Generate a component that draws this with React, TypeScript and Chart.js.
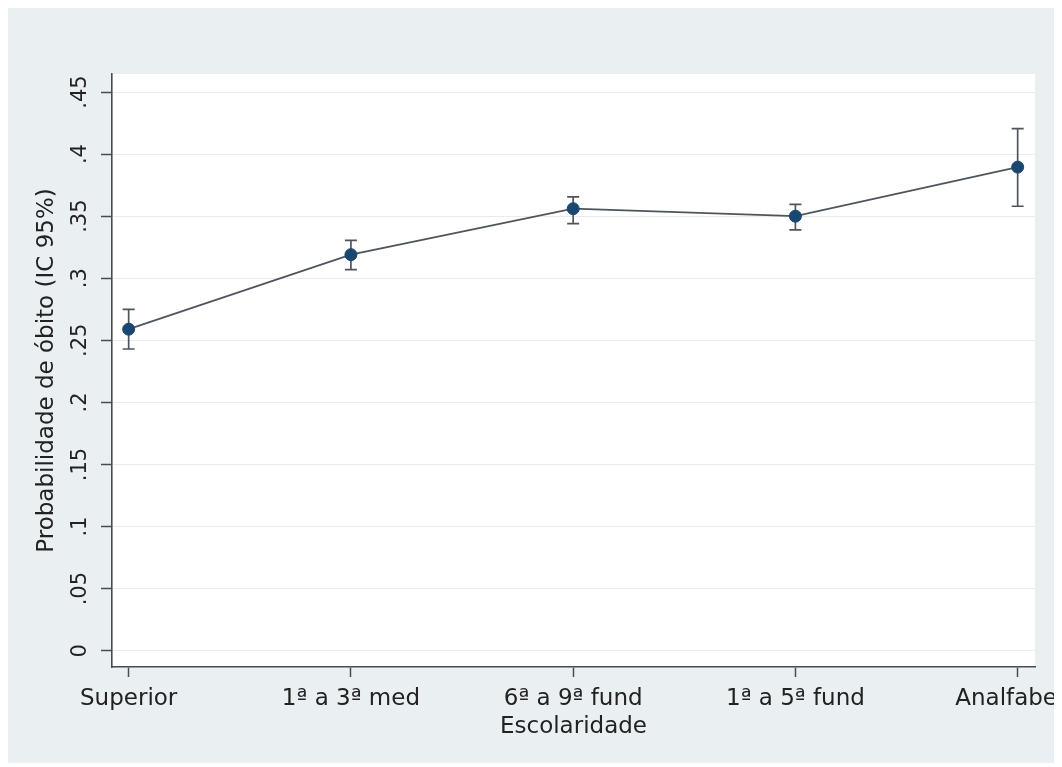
import React, { useEffect, useRef } from "react";
import { Chart, registerables } from "chart.js";

Chart.register(...registerables);

const categories = ["Superior", "1ª a 3ª med", "6ª a 9ª fund", "1ª a 5ª fund", "Analfabeto"];
const probability = [0.259, 0.319, 0.356, 0.35, 0.3895];
const ciLower = [0.243, 0.307, 0.344, 0.339, 0.358];
const ciUpper = [0.275, 0.3305, 0.3655, 0.3595, 0.4205];
const yTickValues = [0, 0.05, 0.1, 0.15, 0.2, 0.25, 0.3, 0.35, 0.4, 0.45];
const yTickLabels = ["0", ".05", ".1", ".15", ".2", ".25", ".3", ".35", ".4", ".45"];

const FONT = "'DejaVu Sans', sans-serif";
const TEXT = "#222222";
const AXIS = "#474c52";
const LINE = "#4f555d";
const MARK = "#1a476f";

const stataPlugin = {
  id: "stataPlot",
  beforeDraw(chart: any) {
    const { ctx, chartArea: a } = chart;
    ctx.save();
    ctx.fillStyle = "#ffffff";
    ctx.fillRect(a.left, a.top, a.right - a.left, a.bottom - a.top);
    ctx.restore();
  },
  beforeDatasetsDraw(chart: any) {
    const { ctx } = chart;
    const xs = chart.scales.x;
    const ys = chart.scales.y;
    ctx.save();
    ctx.strokeStyle = LINE;
    ctx.lineWidth = 1.7;
    for (let i = 0; i < categories.length; i++) {
      const px = xs.getPixelForValue(i);
      const top = ys.getPixelForValue(ciUpper[i]);
      const bot = ys.getPixelForValue(ciLower[i]);
      ctx.beginPath();
      ctx.moveTo(px, top);
      ctx.lineTo(px, bot);
      ctx.moveTo(px - 6, top);
      ctx.lineTo(px + 6, top);
      ctx.moveTo(px - 6, bot);
      ctx.lineTo(px + 6, bot);
      ctx.stroke();
    }
    ctx.restore();
  },
};

export default function App() {
  const ref = useRef<HTMLCanvasElement | null>(null);

  useEffect(() => {
    if (!ref.current) return;
    const chart = new Chart(ref.current, {
      type: "line",
      data: {
        datasets: [
          {
            label: "Probabilidade de óbito",
            data: probability.map((v, i) => ({ x: i, y: v })),
            borderColor: LINE,
            borderWidth: 1.8,
            pointBackgroundColor: MARK,
            pointBorderColor: MARK,
            pointBorderWidth: 1,
            pointRadius: 6,
            fill: false,
            tension: 0,
          },
        ],
      },
      plugins: [stataPlugin],
      options: {
        responsive: false,
        animation: false,
        devicePixelRatio: 1,
        layout: { autoPadding: false, padding: { left: 0, right: 25, top: 66, bottom: 0 } },
        plugins: {
          legend: { display: false },
          tooltip: { enabled: false },
          title: { display: false },
        },
        scales: {
          x: {
            type: "linear",
            min: -0.075,
            max: 4.078,
            afterBuildTicks: (s: any) => {
              s.ticks = categories.map((_, i) => ({ value: i }));
            },
            afterFit: (s: any) => {
              s.height = 96;
              s.paddingLeft = 0;
              s.paddingRight = 0;
            },
            ticks: {
              autoSkip: false,
              maxRotation: 0,
              minRotation: 0,
              padding: 8,
              color: TEXT,
              font: { family: FONT, size: 23 },
              callback: (v: any) => categories[Math.round(Number(v))],
            },
            grid: {
              drawOnChartArea: false,
              drawTicks: true,
              tickLength: 10,
              tickColor: AXIS,
              tickWidth: 1.5,
            },
            border: { display: true, color: AXIS, width: 1.6 },
            title: {
              display: true,
              text: "Escolaridade",
              color: TEXT,
              font: { family: FONT, size: 23 },
              padding: { top: 0, bottom: 22 },
            },
          },
          y: {
            type: "linear",
            min: -0.0131,
            max: 0.4645,
            afterBuildTicks: (s: any) => {
              s.ticks = yTickValues.map((v) => ({ value: v }));
            },
            afterFit: (s: any) => {
              s.width = 104;
              s.paddingTop = 0;
              s.paddingBottom = 0;
            },
            ticks: {
              minRotation: 90,
              maxRotation: 90,
              crossAlign: "center",
              padding: 4,
              color: TEXT,
              font: { family: FONT, size: 21 },
              callback: (_v: any, i: number) => yTickLabels[i],
            },
            grid: {
              color: "#ebebeb",
              lineWidth: 1,
              drawTicks: true,
              tickLength: 11,
              tickColor: AXIS,
              tickWidth: 1.5,
            },
            border: { display: true, color: AXIS, width: 1.6 },
            title: {
              display: true,
              text: "Probabilidade de óbito (IC 95%)",
              color: TEXT,
              font: { family: FONT, size: 23 },
              padding: { top: 25, bottom: 0 },
            },
          },
        },
      },
    });
    return () => chart.destroy();
  }, []);

  return (
    <div style={{ width: 1052, height: 755, background: "#eaeff2" }}>
      <canvas ref={ref} width={1052} height={755} style={{ display: "block", width: 1052, height: 755 }} />
    </div>
  );
}
